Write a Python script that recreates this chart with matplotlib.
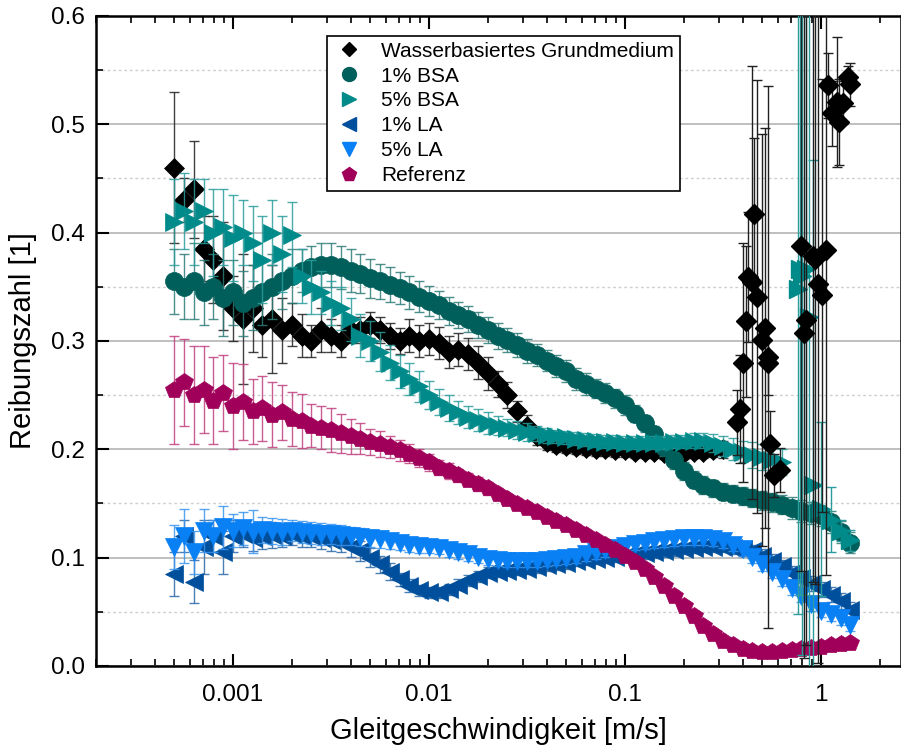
import numpy as np
import matplotlib
matplotlib.use('Agg')
import matplotlib.pyplot as plt
from matplotlib.ticker import FixedLocator, FuncFormatter, MultipleLocator, LogLocator, NullFormatter

plt.rcParams['font.family'] = ['Liberation Sans', 'DejaVu Sans']

# sliding speed sweep [m/s], shared by all series
speed = [5.0e-4, 5.62e-4, 6.31e-4, 7.08e-4, 7.94e-4, 8.91e-4, 1.0e-3, 1.12e-3, 1.26e-3, 1.41e-3,
         1.58e-3, 1.78e-3, 2.0e-3, 2.24e-3, 2.51e-3, 2.82e-3, 3.16e-3, 3.55e-3, 3.98e-3, 4.47e-3,
         5.01e-3, 5.62e-3, 6.31e-3, 7.08e-3, 7.94e-3, 8.91e-3, 0.01, 0.0112, 0.0126, 0.0141,
         0.0158, 0.0178, 0.02, 0.0224, 0.0251, 0.0282, 0.0316, 0.0355, 0.0398, 0.0447,
         0.0501, 0.0562, 0.0631, 0.0708, 0.0794, 0.0891, 0.1, 0.112, 0.126, 0.141,
         0.158, 0.178, 0.2, 0.224, 0.251, 0.282, 0.316, 0.355, 0.398, 0.447,
         0.501, 0.562, 0.631, 0.708, 0.794, 0.891, 1.0, 1.12, 1.26, 1.41]

# Wasserbasiertes Grundmedium (first 57 speeds, then scattered points)
wb_y = [0.46, 0.43, 0.44, 0.385, 0.375, 0.36, 0.33, 0.32, 0.33, 0.315,
        0.32, 0.31, 0.315, 0.305, 0.30, 0.31, 0.305, 0.30, 0.31, 0.31,
        0.315, 0.31, 0.305, 0.30, 0.305, 0.30, 0.302, 0.298, 0.29, 0.292,
        0.288, 0.28, 0.27, 0.26, 0.25, 0.235, 0.222, 0.212, 0.207, 0.204,
        0.203, 0.202, 0.201, 0.20, 0.20, 0.199, 0.199, 0.198, 0.198, 0.198,
        0.197, 0.197, 0.197, 0.198, 0.198, 0.199, 0.20]
wb_err = [0.07, 0.02, 0.045, 0.03, 0.04, 0.05, 0.03, 0.06, 0.04, 0.03,
          0.05, 0.03, 0.02, 0.02, 0.015, 0.02, 0.015, 0.015, 0.012, 0.012,
          0.012, 0.012, 0.012, 0.012, 0.015, 0.015, 0.015, 0.015, 0.015, 0.015,
          0.015, 0.015, 0.015, 0.012, 0.012, 0.01, 0.01, 0.008, 0.008, 0.006,
          0.006, 0.006, 0.006, 0.006, 0.006, 0.006, 0.006, 0.006, 0.006, 0.006,
          0.006, 0.006, 0.006, 0.006, 0.006, 0.006, 0.008]
wb_hi_x = [0.372, 0.386, 0.40, 0.414, 0.424, 0.445, 0.455, 0.471, 0.50, 0.518,
           0.537, 0.537, 0.549, 0.576, 0.618, 0.79, 0.819, 0.839, 0.91, 0.93,
           0.966, 1.01, 1.06, 1.09, 1.14, 1.21, 1.24, 1.29, 1.37, 1.40]
wb_hi_y = [0.225, 0.237, 0.28, 0.318, 0.359, 0.354, 0.417, 0.341, 0.301, 0.312,
           0.285, 0.28, 0.205, 0.176, 0.181, 0.388, 0.307, 0.319, 0.378, 0.376,
           0.353, 0.342, 0.384, 0.536, 0.51, 0.521, 0.502, 0.52, 0.544, 0.537]
wb_hi_err = [0.03, 0.05, 0.11, 0.07, 0.06, 0.2, 0.07, 0.2, 0.19, 0.185,
             0.25, 0.03, 0.03, 0.02, 0.02, 0.3, 0.3, 0.3, 0.3, 0.3,
             0.35, 0.2, 0.3, 0.03, 0.03, 0.06, 0.04, 0.02, 0.01, 0.02]

bsa1_y = [0.355, 0.35, 0.355, 0.345, 0.35, 0.34, 0.345, 0.335, 0.34, 0.345,
          0.35, 0.355, 0.36, 0.365, 0.368, 0.37, 0.37, 0.368, 0.365, 0.362,
          0.358, 0.355, 0.352, 0.349, 0.345, 0.341, 0.337, 0.333, 0.328, 0.324,
          0.32, 0.315, 0.31, 0.305, 0.301, 0.296, 0.291, 0.287, 0.282, 0.277,
          0.272, 0.265, 0.26, 0.256, 0.252, 0.247, 0.241, 0.233, 0.224, 0.214,
          0.202, 0.19, 0.18, 0.172, 0.167, 0.164, 0.161, 0.159, 0.157, 0.155,
          0.153, 0.151, 0.149, 0.146, 0.143, 0.141, 0.139, 0.133, 0.124, 0.114]
bsa1_err = [0.03, 0.03, 0.035, 0.03, 0.03, 0.035, 0.03, 0.03, 0.03, 0.03,
            0.03, 0.025, 0.025, 0.02, 0.02, 0.02, 0.02, 0.02, 0.02, 0.018,
            0.018, 0.016, 0.016, 0.015, 0.015, 0.014, 0.014, 0.013, 0.013, 0.012,
            0.012, 0.012, 0.012, 0.012, 0.011, 0.011, 0.011, 0.01, 0.01, 0.01,
            0.01, 0.01, 0.01, 0.009, 0.009, 0.009, 0.009, 0.008, 0.008, 0.008,
            0.008, 0.008, 0.008, 0.008, 0.008, 0.008, 0.008, 0.008, 0.008, 0.008,
            0.009, 0.009, 0.009, 0.01, 0.01, 0.01, 0.01, 0.01, 0.01, 0.01]

# 5% BSA (first 63 speeds, then scattered points)
bsa5_y = [0.41, 0.42, 0.41, 0.42, 0.40, 0.405, 0.395, 0.40, 0.39, 0.375,
          0.40, 0.38, 0.398, 0.36, 0.35, 0.345, 0.335, 0.33, 0.32, 0.305,
          0.30, 0.29, 0.28, 0.272, 0.265, 0.258, 0.25, 0.244, 0.238, 0.234,
          0.23, 0.227, 0.224, 0.222, 0.22, 0.218, 0.216, 0.215, 0.213, 0.212,
          0.211, 0.21, 0.209, 0.208, 0.207, 0.207, 0.206, 0.206, 0.206, 0.206,
          0.206, 0.207, 0.207, 0.208, 0.208, 0.206, 0.203, 0.20, 0.198, 0.195,
          0.193, 0.19, 0.188]
bsa5_err = [0.04, 0.035, 0.04, 0.03, 0.04, 0.035, 0.04, 0.03, 0.035, 0.04,
            0.03, 0.035, 0.03, 0.025, 0.025, 0.02, 0.02, 0.02, 0.02, 0.02,
            0.018, 0.018, 0.016, 0.015, 0.015, 0.014, 0.013, 0.012, 0.012, 0.011,
            0.01, 0.01, 0.01, 0.009, 0.008, 0.008, 0.008, 0.007, 0.007, 0.006,
            0.006, 0.006, 0.006, 0.006, 0.006, 0.006, 0.006, 0.006, 0.006, 0.006,
            0.006, 0.006, 0.006, 0.007, 0.007, 0.008, 0.009, 0.01, 0.01, 0.012,
            0.012, 0.012, 0.012]
bsa5_hi_x = [0.76, 0.78, 0.80, 0.84, 0.87, 0.91, 1.0, 1.12, 1.26, 1.41]
bsa5_hi_y = [0.348, 0.366, 0.36, 0.366, 0.322, 0.167, 0.145, 0.135, 0.125, 0.116]
bsa5_hi_err = [0.3, 0.3, 0.35, 0.3, 0.35, 0.3, 0.08, 0.03, 0.01, 0.01]

la1_y = [0.085, 0.12, 0.078, 0.11, 0.12, 0.105, 0.12, 0.122, 0.118, 0.12,
         0.121, 0.12, 0.122, 0.12, 0.12, 0.118, 0.116, 0.115, 0.11, 0.106,
         0.10, 0.094, 0.087, 0.08, 0.074, 0.07, 0.068, 0.068, 0.071, 0.075,
         0.079, 0.083, 0.086, 0.087, 0.088, 0.089, 0.09, 0.091, 0.093, 0.094,
         0.095, 0.097, 0.098, 0.099, 0.10, 0.101, 0.102, 0.103, 0.104, 0.105,
         0.106, 0.107, 0.108, 0.109, 0.11, 0.11, 0.11, 0.109, 0.108, 0.106,
         0.102, 0.097, 0.092, 0.086, 0.081, 0.076, 0.071, 0.066, 0.06, 0.052]
la1_err = [0.02, 0.015, 0.02, 0.025, 0.015, 0.02, 0.015, 0.012, 0.012, 0.012,
           0.012, 0.01, 0.01, 0.01, 0.01, 0.01, 0.01, 0.01, 0.009, 0.009,
           0.009, 0.008, 0.008, 0.006, 0.006, 0.005, 0.005, 0.005, 0.005, 0.005,
           0.005, 0.005, 0.005, 0.005, 0.005, 0.005, 0.005, 0.005, 0.005, 0.005,
           0.005, 0.005, 0.005, 0.005, 0.005, 0.005, 0.005, 0.005, 0.005, 0.005,
           0.005, 0.005, 0.005, 0.005, 0.005, 0.005, 0.005, 0.006, 0.006, 0.006,
           0.006, 0.006, 0.006, 0.006, 0.007, 0.007, 0.007, 0.007, 0.007, 0.007]

la5_y = [0.11, 0.12, 0.105, 0.125, 0.12, 0.128, 0.125, 0.127, 0.124, 0.126,
         0.125, 0.124, 0.125, 0.124, 0.123, 0.122, 0.122, 0.121, 0.12, 0.119,
         0.118, 0.117, 0.115, 0.114, 0.112, 0.111, 0.11, 0.109, 0.107, 0.105,
         0.103, 0.101, 0.099, 0.098, 0.097, 0.097, 0.097, 0.097, 0.098, 0.099,
         0.10, 0.101, 0.103, 0.105, 0.107, 0.109, 0.111, 0.113, 0.114, 0.115,
         0.116, 0.117, 0.118, 0.118, 0.118, 0.117, 0.115, 0.112, 0.108, 0.101,
         0.094, 0.087, 0.08, 0.072, 0.065, 0.057, 0.051, 0.048, 0.044, 0.038]
la5_err = [0.02, 0.025, 0.02, 0.02, 0.015, 0.02, 0.015, 0.015, 0.02, 0.012,
           0.012, 0.012, 0.01, 0.01, 0.01, 0.01, 0.009, 0.009, 0.008, 0.008,
           0.008, 0.008, 0.007, 0.007, 0.007, 0.007, 0.006, 0.006, 0.006, 0.006,
           0.006, 0.006, 0.006, 0.006, 0.006, 0.006, 0.006, 0.006, 0.006, 0.006,
           0.006, 0.006, 0.006, 0.006, 0.006, 0.006, 0.006, 0.006, 0.006, 0.006,
           0.006, 0.006, 0.006, 0.006, 0.006, 0.006, 0.006, 0.006, 0.006, 0.006,
           0.006, 0.006, 0.006, 0.006, 0.006, 0.006, 0.006, 0.006, 0.006, 0.006]

ref_y = [0.255, 0.262, 0.25, 0.255, 0.245, 0.252, 0.24, 0.244, 0.235, 0.238,
         0.232, 0.234, 0.228, 0.226, 0.222, 0.22, 0.218, 0.215, 0.212, 0.21,
         0.207, 0.205, 0.202, 0.199, 0.196, 0.192, 0.188, 0.183, 0.18, 0.176,
         0.172, 0.168, 0.164, 0.159, 0.154, 0.15, 0.146, 0.142, 0.138, 0.134,
         0.13, 0.126, 0.121, 0.116, 0.112, 0.107, 0.102, 0.096, 0.09, 0.082,
         0.074, 0.065, 0.055, 0.046, 0.037, 0.03, 0.023, 0.019, 0.016, 0.014,
         0.013, 0.013, 0.014, 0.015, 0.016, 0.017, 0.018, 0.019, 0.02, 0.021]
ref_err = [0.05, 0.04, 0.045, 0.04, 0.04, 0.035, 0.04, 0.035, 0.03, 0.03,
           0.03, 0.025, 0.025, 0.025, 0.02, 0.02, 0.02, 0.018, 0.016, 0.014,
           0.012, 0.012, 0.01, 0.01, 0.009, 0.008, 0.008, 0.007, 0.007, 0.006,
           0.006, 0.006, 0.006, 0.005, 0.005, 0.005, 0.005, 0.005, 0.005, 0.005,
           0.005, 0.005, 0.005, 0.005, 0.005, 0.005, 0.005, 0.005, 0.005, 0.005,
           0.005, 0.005, 0.005, 0.005, 0.004, 0.004, 0.004, 0.003, 0.003, 0.003,
           0.003, 0.003, 0.003, 0.003, 0.003, 0.003, 0.003, 0.003, 0.003, 0.003]

labels = ['Wasserbasiertes Grundmedium', '1% BSA', '5% BSA', '1% LA', '5% LA', 'Referenz']
colors = ['#000000', '#005f5a', '#008a8a', '#004f9c', '#0a80f5', '#a0005a']
ecolors = ['#202020', '#2e7c77', '#2a9c9c', '#2a6aaa', '#3a95f0', '#c0407f']
markers = ['D', 'o', '>', '<', 'v', 'p']
msizes = [10.5, 13, 13, 13, 13, 13]

fig = plt.figure(figsize=(9.01, 7.48), dpi=100)
ax = fig.add_axes([96 / 901, 82 / 748, 805 / 901, 650 / 748])

series = [
    (speed[:len(wb_y)], wb_y, wb_err),
    (speed, bsa1_y, bsa1_err),
    (speed[:len(bsa5_y)], bsa5_y, bsa5_err),
    (speed, la1_y, la1_err),
    (speed, la5_y, la5_err),
    (speed, ref_y, ref_err),
]

handles = []
for i, (x, y, e) in enumerate(series):
    z = 3 + i
    ax.errorbar(x, y, yerr=e, fmt='none', ecolor=ecolors[i], elinewidth=1.0,
                capsize=3.5, capthick=1.0, alpha=0.85, zorder=z)
    ax.plot(x, y, linestyle='none', marker=markers[i], ms=msizes[i],
            color=colors[i], mec=colors[i], mew=0.5, zorder=z + 0.5)
    # legend handle with smaller marker
    h, = ax.plot([], [], linestyle='none', marker=markers[i], ms=msizes[i] - 3,
                 color=colors[i], label=labels[i])
    handles.append(h)

# scattered high-speed points
ax.errorbar(bsa5_hi_x, bsa5_hi_y, yerr=bsa5_hi_err, fmt='none', ecolor=ecolors[2],
            elinewidth=1.0, capsize=3.5, capthick=1.0, zorder=10)
ax.plot(bsa5_hi_x, bsa5_hi_y, linestyle='none', marker='>', ms=13,
        color=colors[2], mec=colors[2], zorder=10.5)
ax.errorbar(wb_hi_x, wb_hi_y, yerr=wb_hi_err, fmt='none', ecolor=ecolors[0],
            elinewidth=1.0, capsize=3.5, capthick=1.0, zorder=11)
ax.plot(wb_hi_x, wb_hi_y, linestyle='none', marker='D', ms=10.5,
        color='black', zorder=11.5)

ax.set_xscale('log')
ax.set_xlim(2.0e-4, 2.56)
ax.set_ylim(0, 0.6)

ax.xaxis.set_major_locator(FixedLocator([1e-4, 1e-3, 1e-2, 1e-1, 1, 10]))
ax.xaxis.set_major_formatter(FuncFormatter(lambda v, p: '%g' % v))
ax.xaxis.set_minor_locator(LogLocator(base=10, subs=np.arange(2, 10), numticks=20))
ax.xaxis.set_minor_formatter(NullFormatter())
ax.yaxis.set_major_locator(MultipleLocator(0.1))
ax.yaxis.set_minor_locator(MultipleLocator(0.05))
ax.yaxis.set_major_formatter(FuncFormatter(lambda v, p: '%.1f' % v))

ax.tick_params(axis='both', which='major', direction='in', length=9, width=1.5, labelsize=17.5)
ax.tick_params(axis='both', which='minor', direction='in', length=5, width=1.2)
ax.tick_params(axis='x', which='both', top=True)
ax.tick_params(axis='x', which='major', pad=13)
ax.tick_params(axis='y', which='major', pad=8)

ax.grid(axis='y', which='major', color='#b4b4b4', linewidth=1.2, linestyle='-', zorder=0)
ax.grid(axis='y', which='minor', color='#cfcfcf', linewidth=1.0, linestyle=(0, (2, 2)), zorder=0)
ax.set_axisbelow(True)

for s in ax.spines.values():
    s.set_linewidth(1.8)

ax.set_xlabel('Gleitgeschwindigkeit [m/s]', fontsize=21, labelpad=8)
ax.set_ylabel('Reibungszahl [1]', fontsize=21, labelpad=10)

leg = ax.legend(handles=handles, loc='upper left', bbox_to_anchor=(0.287, 0.97),
                fontsize=15, frameon=True, fancybox=False, framealpha=1,
                edgecolor='black', borderpad=0.3, labelspacing=0.28,
                handletextpad=0.8, handlelength=1.5, borderaxespad=0)
leg.get_frame().set_linewidth(1.2)
leg.set_zorder(20)

fig.savefig('out.png', dpi=100)
